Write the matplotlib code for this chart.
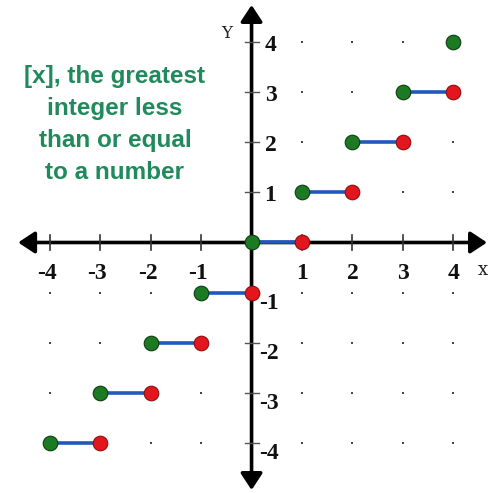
import matplotlib
matplotlib.use("Agg")
import matplotlib.pyplot as plt
import numpy as np

# ---- data ----
step_starts = [-4, -3, -2, -1, 0, 1, 2, 3]      # x where each step begins (closed, green)
step_values = [-4, -3, -2, -1, 0, 1, 2, 3]      # floor value on each step
step_ends = [-3, -2, -1, 0, 1, 2, 3, 4]         # x where each step ends (open, red)
last_point_x = [4]
last_point_y = [4]
tick_values = [-4, -3, -2, -1, 1, 2, 3, 4]
tick_labels = ["-4", "-3", "-2", "-1", "1", "2", "3", "4"]
title_text = "[x], the greatest\ninteger less\nthan or equal\nto a number"

GREEN = "#1c7a22"
RED = "#e3161e"
BLUE = "#2158c0"
TEXT_GREEN = "#1f8a5c"

fig = plt.figure(figsize=(4.88, 4.93), dpi=100)
ax = fig.add_axes([0, 0, 1, 1])
ax.set_xlim(-4.99, 4.69)
ax.set_ylim(-5.0, 4.84)
ax.axis("off")

# axes with arrows
arrow_kw = dict(arrowstyle="<|-|>,head_length=0.5,head_width=0.33", lw=2.6,
                color="black", mutation_scale=20, shrinkA=0, shrinkB=0)
ax.annotate("", xy=(4.67, 0), xytext=(-4.63, 0), arrowprops=arrow_kw, zorder=2)
ax.annotate("", xy=(0, 4.74), xytext=(0, -4.94), arrowprops=arrow_kw, zorder=2)

# tick marks
th = 0.14
for v in tick_values:
    ax.plot([v, v], [-th, th], color="#333333", lw=1.2, zorder=2)
    ax.plot([-th, th], [v, v], color="#555555", lw=1.0, zorder=2)

# grid dots (none in the upper-left quadrant, where the caption sits)
gx, gy = np.meshgrid(tick_values, tick_values)
gx, gy = gx.ravel(), gy.ravel()
keep = ~((gx < 0) & (gy > 0))
ax.scatter(gx[keep], gy[keep], s=3, marker="s", color="#444444", zorder=1, linewidths=0)

# step segments
for xs, xe, v in zip(step_starts, step_ends, step_values):
    ax.plot([xs, xe], [v, v], color=BLUE, lw=2.6, zorder=3, solid_capstyle="butt")

ax.plot(step_ends, step_values, "o", ms=10.5, color=RED, mec="#8a1010", mew=0.8, zorder=4)
ax.plot(step_starts + last_point_x, step_values + last_point_y, "o", ms=10.5,
        color=GREEN, mec="#0d3d10", mew=0.8, zorder=5)

# tick labels
lab_font = dict(family=["Liberation Serif", "DejaVu Serif"], fontweight="bold",
                fontsize=17, color="#111111")
for v, t in zip(tick_values, tick_labels):
    dx = -3 if v < 0 else 0
    ax.annotate(t, (v, 0), xytext=(dx, -31), textcoords="offset pixels",
                ha="center", va="center", **lab_font)
    if v > 0:
        ax.annotate(t, (0, v), xytext=(19, -3), textcoords="offset pixels",
                    ha="center", va="center", **lab_font)
    else:
        ax.annotate(t, (0, v), xytext=(17, -11), textcoords="offset pixels",
                    ha="center", va="center", **lab_font)

# axis names
ax.annotate("Y", (0, 4.84), xytext=(-25, -33), textcoords="offset pixels",
            ha="center", va="center", family="DejaVu Serif", fontsize=12, color="#222222")
ax.annotate("x", (4.69, 0), xytext=(-5, -28), textcoords="offset pixels",
            ha="center", va="center", family="DejaVu Serif", fontsize=13, color="#222222")

# title text
ax.text(-2.71, 2.36, title_text, ha="center", va="center", multialignment="center",
        family=["Liberation Sans", "DejaVu Sans"], fontweight="bold", fontsize=17.5,
        color=TEXT_GREEN, linespacing=1.5)

fig.savefig("out.png", dpi=100)
